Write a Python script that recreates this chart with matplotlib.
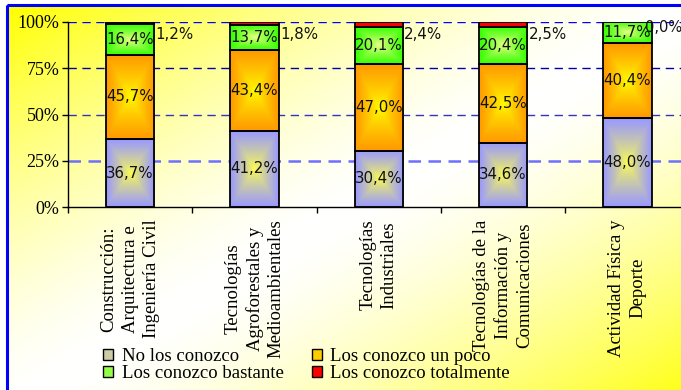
import matplotlib
matplotlib.use("Agg")
import matplotlib.pyplot as plt
from matplotlib.patches import Rectangle, Patch
import numpy as np

# Datos del gráfico
categorias = ["Construcción:\nArquitectura e\nIngeniería Civil",
              "Tecnologías\nAgroforestales y\nMedioambientales",
              "Tecnologías\nIndustriales",
              "Tecnologías de la\nInformación y\nComunicaciones",
              "Actividad Física y\nDeporte"]
no_conozco = [36.7, 41.2, 30.4, 34.6, 48.0]
un_poco = [45.7, 43.4, 47.0, 42.5, 40.4]
bastante = [16.4, 13.7, 20.1, 20.4, 11.7]
totalmente = [1.2, 1.8, 2.4, 2.5, 0.0]
series_nombres = ["No los conozco", "Los conozco un poco",
                  "Los conozco bastante", "Los conozco totalmente"]
y_ticks = [0, 25, 50, 75, 100]

# colores (borde, centro) de cada serie
colores = [((0.60, 0.60, 1.00), (1.00, 1.00, 0.30)),
           ((1.00, 0.60, 0.00), (1.00, 1.00, 0.00)),
           ((0.20, 1.00, 0.00), (0.95, 1.00, 0.55)),
           ((1.00, 0.00, 0.00), (1.00, 0.00, 0.00))]

W, H = 681, 390
fig = plt.figure(figsize=(W / 100, H / 100), dpi=100, facecolor="white")

# fondo con degradado amarillo
bg = fig.add_axes([0, 0, 1, 1], zorder=0)
bg.axis("off")
gx, gy = np.meshgrid(np.linspace(0, 1, 200), np.linspace(0, 1, 120))
s = np.abs(gx + gy - 1.0)
s = np.clip(s, 0, 1) ** 1.5
amarillo = np.array([1.0, 1.0, 0.0])
blanco = np.array([1.0, 1.0, 1.0])
img_bg = blanco * (1 - s[..., None]) + amarillo * s[..., None]
bg.imshow(img_bg, extent=[7, W + 20, H + 20, 5], aspect="auto", interpolation="bilinear")
bg.add_patch(Rectangle((7, 5), W + 20, H + 20, fill=False, edgecolor="#0000ff", lw=2.2))
bg.set_xlim(0, W)
bg.set_ylim(H, 0)

ax = fig.add_axes([68 / W, (H - 207) / H, 621.5 / W, 185 / H], zorder=1)
ax.patch.set_alpha(0)

x = np.arange(len(categorias))
ancho = 0.39


def degradado(c_borde, c_centro, n=64):
    u = np.linspace(-1, 1, n)
    U, V = np.meshgrid(u, u)
    t = np.maximum(np.abs(U), np.abs(V)) ** 0.8
    return np.array(c_centro) * (1 - t[..., None]) + np.array(c_borde) * t[..., None]


series = [no_conozco, un_poco, bastante, totalmente]
base = np.zeros(len(categorias))
for k, valores in enumerate(series):
    valores = np.array(valores)
    img = degradado(*colores[k])
    for i in range(len(categorias)):
        if valores[i] > 0:
            ax.imshow(img, extent=[x[i] - ancho / 2, x[i] + ancho / 2, base[i], base[i] + valores[i]],
                      aspect="auto", interpolation="bilinear", zorder=2)
    ax.bar(x, valores, ancho, bottom=base, facecolor="none", edgecolor="black", lw=1.3, zorder=3)
    for i in range(len(categorias)):
        etiqueta = f"{valores[i]:.1f}%".replace(".", ",")
        if k < 3:
            ax.text(x[i], base[i] + valores[i] / 2, etiqueta, ha="center", va="center",
                    fontsize=10.8, color="#111111", zorder=4)
        elif valores[i] > 0:
            ax.text(x[i] + ancho / 2 + 0.01, 93.5, etiqueta, ha="left", va="center",
                    fontsize=10.8, color="#111111", zorder=4)
        else:
            # etiqueta de un segmento vacío: queda pegada al borde de la barra
            ax.text(x[i] + ancho / 2 - 0.05, 97, etiqueta, ha="left", va="center",
                    fontsize=10.5, color="#111111", zorder=4)
    base = base + valores

# líneas de división
ax.axhline(100, color="#0000ff", ls=(0, (6, 4)), lw=1.0, zorder=1)
ax.axhline(75, color="#0000aa", ls=(0, (6, 4)), lw=1.0, zorder=1)
ax.axhline(50, color="#3333bb", ls=(0, (6, 4)), lw=1.0, zorder=1)
ax.axhline(25, color="#6f6fff", ls=(0, (5, 3)), lw=1.8, zorder=1)

ax.set_xlim(-0.5, len(categorias) - 0.5)
ax.set_ylim(0, 100)
for lado in ["top", "right"]:
    ax.spines[lado].set_visible(False)
ax.spines["left"].set_linewidth(1.0)
ax.spines["bottom"].set_linewidth(1.0)

serif = "Liberation Serif"
ax.set_yticks(y_ticks)
ax.set_yticklabels([f"{v}%" for v in y_ticks], fontfamily=serif, fontsize=13)
ax.tick_params(axis="y", length=4, width=1, pad=2)
ax.set_xticks(x)
ax.set_xticklabels(categorias, rotation=90, ha="center", va="top", multialignment="center",
                   fontfamily=serif, fontsize=13.5, linespacing=1.3)
ax.set_xticks(np.arange(-0.5, len(categorias)), minor=True)
ax.tick_params(axis="x", which="major", length=0, pad=9)
ax.tick_params(axis="x", which="minor", length=4, width=1)

# leyenda
mezcla = [tuple((np.array(b) + np.array(c)) / 2) for b, c in colores[:3]] + [colores[3][0]]
manejadores = [Patch(facecolor=mezcla[i], edgecolor="black", lw=1.0, label=series_nombres[i]) for i in range(4)]
orden = [0, 2, 1, 3]
fig.legend([manejadores[i] for i in orden], [series_nombres[i] for i in orden],
           loc="upper left", bbox_to_anchor=(103 / W, 1 - 348 / H), ncol=2, frameon=False,
           prop={"family": serif, "size": 13.5}, handlelength=0.55, handleheight=0.55,
           handletextpad=0.45, columnspacing=1.5, labelspacing=0.0, borderpad=0,
           borderaxespad=0)

fig.savefig("out.png", dpi=100, facecolor="white")
